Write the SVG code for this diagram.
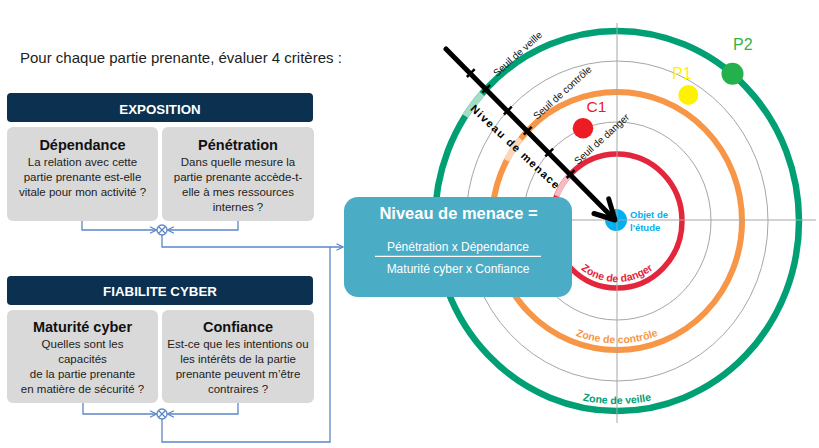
<svg xmlns="http://www.w3.org/2000/svg" width="819" height="448" viewBox="0 0 819 448">
<defs>
<style>
text{font-family:"Liberation Sans",Arial,sans-serif}
.hdr{fill:#0b3050}
.hdrt{fill:#fff;font-weight:bold;font-size:13.3px;text-anchor:middle}
.card{fill:#d9d9d9}
.ttl{fill:#111;font-weight:bold;font-size:14.5px;text-anchor:middle}
.body{fill:#222;font-size:11.5px;text-anchor:middle}
.conn{fill:none;stroke:#5b87c7;stroke-width:1.3}
.grid{fill:none;stroke:#a6a6a6;stroke-width:1}
.seuil{font-size:10px;fill:#111}
.zone{font-size:10.5px;font-weight:bold;text-anchor:middle}
.tick{stroke:#000;stroke-width:2.5}
.ring{fill:none}
</style>
<marker id="ah" viewBox="0 0 8 8" refX="7.5" refY="4" markerWidth="8" markerHeight="8" orient="auto" markerUnits="userSpaceOnUse">
<path d="M1,0.8 L7.5,4 L1,7.2" fill="none" stroke="#5b87c7" stroke-width="1.2"/>
</marker>
<path id="zd" d="M558,221 A59,61 0 0 0 676,221"/>
<path id="zc" d="M498.5,221 A118.5,122.3 0 0 0 735.5,221"/>
<path id="zv" d="M442,221 A175,183 0 0 0 792,221"/>
</defs>
<rect width="819" height="448" fill="#fff"/>

<text x="20" y="63" font-size="15" fill="#222">Pour chaque partie prenante, évaluer 4 critères :</text>

<g id="exposition">
<rect class="hdr" x="7" y="93" width="306" height="29" rx="4"/>
<text class="hdrt" x="160" y="114">EXPOSITION</text>
</g>
<g id="dependance">
<rect class="card" x="7" y="127" width="151" height="94" rx="6"/>
<text class="ttl" x="82.5" y="150">Dépendance</text>
<text class="body" x="82.5" y="166">La relation avec cette</text>
<text class="body" x="82.5" y="181">partie prenante est-elle</text>
<text class="body" x="82.5" y="196">vitale pour mon activité ?</text>
</g>
<g id="penetration">
<rect class="card" x="162" y="127" width="152" height="94" rx="6"/>
<text class="ttl" x="238" y="150">Pénétration</text>
<text class="body" x="238" y="166">Dans quelle mesure la</text>
<text class="body" x="238" y="181">partie prenante accède-t-</text>
<text class="body" x="238" y="196">elle à mes ressources</text>
<text class="body" x="238" y="211">internes ?</text>
</g>
<g id="fiabilite">
<rect class="hdr" x="7" y="276" width="306" height="29" rx="4"/>
<text class="hdrt" x="160" y="296">FIABILITE CYBER</text>
</g>
<g id="maturite">
<rect class="card" x="7" y="310" width="151" height="93" rx="6"/>
<text class="ttl" x="82.5" y="332">Maturité cyber</text>
<text class="body" x="82.5" y="347.5">Quelles sont les</text>
<text class="body" x="82.5" y="362.7">capacités</text>
<text class="body" x="82.5" y="378">de la partie prenante</text>
<text class="body" x="82.5" y="393.3">en matière de sécurité ?</text>
</g>
<g id="confiance">
<rect class="card" x="162" y="310" width="152" height="93" rx="6"/>
<text class="ttl" x="238" y="332">Confiance</text>
<text class="body" x="238" y="347.5">Est-ce que les intentions ou</text>
<text class="body" x="238" y="362.7">les intérêts de la partie</text>
<text class="body" x="238" y="378">prenante peuvent m’être</text>
<text class="body" x="238" y="393.3">contraires ?</text>
</g>

<g id="connectors">
<path class="conn" d="M82,221 V230 H156.5" marker-end="url(#ah)"/>
<path class="conn" d="M238,221 V230 H167.5" marker-end="url(#ah)"/>
<path class="conn" d="M162,235 V247 H343" marker-end="url(#ah)"/>
<path class="conn" d="M83,403 V414 H156.5" marker-end="url(#ah)"/>
<path class="conn" d="M238,403 V414 H167.5" marker-end="url(#ah)"/>
<path class="conn" d="M162,419 V442 H330 V247"/>
</g>
<g id="mult-top">
<circle class="conn" cx="162" cy="230" r="5" fill="#fff"/>
<path class="conn" d="M158.5,226.5 L165.5,233.5 M165.5,226.5 L158.5,233.5"/>
</g>
<g id="mult-bottom">
<circle class="conn" cx="162" cy="414" r="5" fill="#fff"/>
<path class="conn" d="M158.5,410.5 L165.5,417.5 M165.5,410.5 L158.5,417.5"/>
</g>

<g id="target">
<ellipse class="ring" cx="617" cy="221" rx="182" ry="190" stroke="#00a074" stroke-width="6.5"/>
<path class="ring" d="M465.2,116.1 A182,190 0 0 1 481.8,93.9" stroke="#a5dcc7" stroke-width="6.5"/>
<ellipse class="grid" cx="617" cy="221" rx="151" ry="160"/>
<ellipse class="ring" cx="617" cy="221" rx="125" ry="129" stroke="#f79646" stroke-width="6"/>
<path class="ring" d="M506.6,160.4 A125,129 0 0 1 520.55,138.94" stroke="#fcd6b6" stroke-width="6"/>
<ellipse class="grid" cx="617" cy="221" rx="94" ry="99"/>
<ellipse class="ring" cx="617" cy="221" rx="65" ry="67" stroke="#e3263b" stroke-width="5.5"/>
<path class="ring" d="M556.73,195.9 A65,67 0 0 1 568.7,176.2" stroke="#f5bcc2" stroke-width="5.5"/>
<circle cx="616" cy="220" r="11" fill="#00b0f0"/>
<line class="grid" x1="617" y1="23" x2="617" y2="423"/>
<line class="grid" x1="418" y1="220" x2="816" y2="220"/>
<text class="zone" fill="#e3263b"><textPath href="#zd" startOffset="50%">Zone de danger</textPath></text>
<text class="zone" fill="#f79646"><textPath href="#zc" startOffset="50%">Zone de contrôle</textPath></text>
<text class="zone" fill="#00a074"><textPath href="#zv" startOffset="50%">Zone de veille</textPath></text>
<text x="630" y="217.5" font-size="9.5" font-weight="bold" fill="#00b0f0">Objet de</text>
<text x="630" y="231" font-size="9.5" font-weight="bold" fill="#00b0f0">l'étude</text>
<text class="seuil" transform="translate(497,77) rotate(-42)">Seuil de veille</text>
<text class="seuil" transform="translate(537,120) rotate(-42)">Seuil de contrôle</text>
<text class="seuil" transform="translate(578,165) rotate(-42)">Seuil de danger</text>
</g>

<g id="stakeholders">
<circle cx="732.5" cy="73.7" r="11" fill="#22b14c"/>
<text x="733" y="50" font-size="16" fill="#2eb34a">P2</text>
<circle cx="688.3" cy="95" r="10" fill="#fff200"/>
<text x="672" y="79.3" font-size="16" fill="#fff200">P1</text>
<circle cx="583" cy="128.3" r="10.3" fill="#ed1c24"/>
<text x="586.5" y="111.7" font-size="15.5" fill="#ed1c24">C1</text>
</g>

<g id="threat-arrow">
<line x1="446" y1="49" x2="614" y2="219" stroke="#000" stroke-width="5" stroke-linecap="round"/>
<path d="M594,213.5 L615,220 L608.7,198.9" fill="none" stroke="#000" stroke-width="5" stroke-linecap="round" stroke-linejoin="round"/>
<line class="tick" x1="466.9" y1="77" x2="474.7" y2="69.2"/>
<line class="tick" x1="482.4" y1="92.7" x2="490.2" y2="84.9"/>
<line class="tick" x1="503.9" y1="114.5" x2="511.7" y2="106.7"/>
<line class="tick" x1="523.8" y1="134.6" x2="531.6" y2="126.8"/>
<line class="tick" x1="545.3" y1="156.4" x2="553.1" y2="148.6"/>
<line class="tick" x1="566.7" y1="178" x2="574.5" y2="170.2"/>
<text transform="translate(513,150) rotate(43)" text-anchor="middle" font-weight="bold" font-size="11" letter-spacing="1.4" fill="#000">Niveau de menace</text>
</g>

<g id="niveau-menace">
<rect x="344" y="197" width="228" height="100" rx="14" fill="#4bacc6"/>
<text x="458.5" y="219.3" font-size="16.5" font-weight="bold" fill="#fff" text-anchor="middle">Niveau de menace =</text>
<text x="458" y="250.7" font-size="12" fill="#fff" text-anchor="middle">Pénétration x Dépendance</text>
<line x1="375" y1="256.3" x2="541" y2="256.3" stroke="#fff" stroke-width="1.3"/>
<text x="458" y="272.7" font-size="12" fill="#fff" text-anchor="middle">Maturité cyber x Confiance</text>
</g>
</svg>
